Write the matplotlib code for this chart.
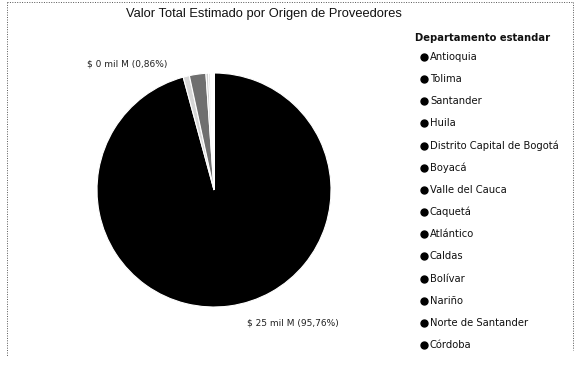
import matplotlib
matplotlib.use("Agg")
import matplotlib.pyplot as plt

# departments, share of total estimated value (%)
departamentos = ["Antioquia", "Tolima", "Santander", "Huila",
                 "Distrito Capital de Bogotá", "Boyacá", "Valle del Cauca",
                 "Caquetá", "Atlántico", "Caldas", "Bolívar", "Nariño",
                 "Norte de Santander", "Córdoba"]
porcentaje = [95.76, 0.86, 2.28, 0.35, 0.25, 0.15, 0.10,
              0.08, 0.06, 0.04, 0.03, 0.02, 0.01, 0.01]
total_mil_m = 26.1  # total in "mil M" (thousand millions of pesos)

colores = ["#000000", "#d6d6d6", "#6f6f6f", "#cfcfcf", "#dadada", "#d4d4d4",
           "#dddddd", "#d8d8d8", "#e0e0e0", "#dcdcdc", "#e0e0e0", "#dedede",
           "#e2e2e2", "#e2e2e2"]

fig = plt.figure(figsize=(5.8, 3.66), dpi=100)
fig.patch.set_facecolor("white")

# dotted frame of the visual (top, left, right)
marco = dict(transform=fig.transFigure, ls=(0, (1, 1.5)), lw=0.7, color="#555555")
fig.add_artist(plt.Line2D([7 / 580, 573 / 580], [1 - 2 / 366, 1 - 2 / 366], **marco))
fig.add_artist(plt.Line2D([7 / 580, 7 / 580], [1 - 2 / 366, 1 - 356 / 366], **marco))
fig.add_artist(plt.Line2D([573 / 580, 573 / 580], [1 - 2 / 366, 1 - 350 / 366], **marco))

fig.text(264 / 580, 1 - 14 / 366, "Valor Total Estimado por Origen de Proveedores",
         ha="center", va="center", fontsize=9.3,
         family=["Liberation Sans", "DejaVu Sans"], color="#111111")

# pie
cx, cy, r = 214, 190, 117
ax = fig.add_axes([(cx - r) / 580, (366 - cy - r) / 366, 2 * r / 580, 2 * r / 366])
ax.pie(porcentaje, colors=colores, startangle=90, counterclock=False,
       wedgeprops=dict(edgecolor="white", linewidth=0.8), radius=1)
ax.set_xlim(-1, 1)
ax.set_ylim(-1, 1)
ax.set_aspect("equal")
ax.axis("off")


def etiqueta(p):
    valor = total_mil_m * p / 100
    return f"$ {valor:.0f} mil M ({p:.2f}%)".replace(".", ",")


lbl_font = dict(fontsize=6.5, family=["DejaVu Sans"], color="#222222",
                va="center", ha="center")
ax.text(-0.74, 1.08, etiqueta(porcentaje[1]), **lbl_font)
ax.text(0.67, -1.14, etiqueta(porcentaje[0]), **lbl_font)

# legend
fig.text(415 / 580, 1 - 38 / 366, "Departamento estandar", ha="left", va="center",
         fontsize=7.2, fontweight="bold", family=["DejaVu Sans"], color="#111111")
y0, dy = 57, 22.15
for i, nombre in enumerate(departamentos):
    y = 1 - (y0 + i * dy) / 366
    fig.add_artist(plt.Line2D([424 / 580], [y], marker="o", markersize=5,
                              color="black", transform=fig.transFigure))
    fig.text(430 / 580, y, nombre, ha="left", va="center", fontsize=7.2,
             family=["DejaVu Sans"], color="#111111")

fig.savefig("out.png", dpi=100)
